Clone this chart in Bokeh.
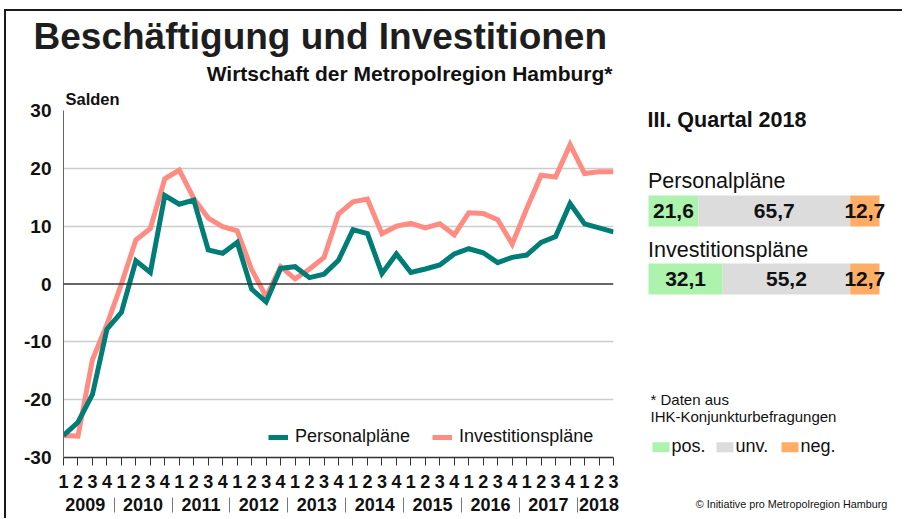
from bokeh.plotting import figure
from bokeh.models import (Range1d, LinearAxis, FixedTicker, Label, Legend, LegendItem,
                          Span, Grid, Title)
from bokeh.layouts import row
from bokeh.core.properties import value
from bokeh.embed import file_html
from bokeh.resources import INLINE

# ---------------- data ----------------
quarters = ["1", "2", "3", "4"] * 9 + ["1", "2", "3"]
years = ["2009", "2010", "2011", "2012", "2013", "2014", "2015", "2016", "2017", "2018"]
personal = [-26.2, -23.9, -19.1, -7.8, -4.9, 4.0, 2.0, 15.3, 13.8, 14.5,
            5.9, 5.3, 7.2, -0.9, -3.1, 2.7, 3.0, 1.1, 1.7, 4.1,
            9.4, 8.7, 1.8, 5.2, 2.0, 2.6, 3.3, 5.2, 6.1, 5.4,
            3.7, 4.6, 5.0, 7.2, 8.2, 13.9, 10.4, 9.7, 9.0]
invest = [-26.2, -26.3, -13.1, -7.0, 0.0, 7.6, 9.6, 18.2, 19.7, 14.8,
          11.4, 9.9, 9.2, 2.5, -2.2, 3.0, 0.9, 2.6, 4.6, 12.1,
          14.2, 14.7, 8.7, 10.0, 10.5, 9.7, 10.4, 8.5, 12.3, 12.2,
          11.1, 6.9, 13.0, 18.8, 18.5, 24.1, 19.1, 19.4, 19.4]
y_ticks = [-30, -20, -10, 0, 10, 20, 30]
series_names = ["Personalpläne", "Investitionspläne"]
share_pos = [21.6, 32.1]
share_unv = [65.7, 55.2]
share_neg = [12.7, 12.7]
share_keys = ["pos.", "unv.", "neg."]

title_text = "Beschäftigung und Investitionen"
subtitle_text = "Wirtschaft der Metropolregion Hamburg*"
ylabel_text = "Salden"
panel_title = "III. Quartal 2018"
note_lines = ["* Daten aus", "IHK-Konjunkturbefragungen"]
credit_text = "© Initiative pro Metropolregion Hamburg"

# ---------------- style ----------------
FONT = "Liberation Sans"
TEAL = "#007D76"
PINK = "#FF8C82"
C_POS = "#ADF2AD"
C_UNV = "#DCDCDC"
C_NEG = "#FFAD66"
TXT = "#111111"
H = 518

xs = list(range(len(personal)))

# ---------------- main chart ----------------
p1 = figure(width=628, height=H, x_range=Range1d(0, len(xs) - 1), y_range=Range1d(-30, 30),
            x_axis_type=None, y_axis_type=None, output_backend="svg", toolbar_location=None,
            min_border_left=63, min_border_right=15, min_border_top=110, min_border_bottom=H - 457)
p1.outline_line_color = None
p1.background_fill_color = "white"
p1.border_fill_alpha = 0

grid = Grid(dimension=1, ticker=FixedTicker(ticks=[t for t in y_ticks if t not in (0, -30)]),
            grid_line_color="#CCCCCC", grid_line_width=1.5)
p1.add_layout(grid)
p1.add_layout(Span(location=0, dimension="width", line_color="#333333", line_width=1.5))

yax = LinearAxis(ticker=FixedTicker(ticks=y_ticks),
                 major_label_overrides={t: str(t) for t in y_ticks},
                 axis_line_color="#666666", axis_line_width=1,
                 major_tick_line_color=None, minor_tick_line_color=None,
                 major_label_standoff=6, major_label_text_font=FONT,
                 major_label_text_font_style="bold", major_label_text_font_size="19px",
                 major_label_text_color=TXT)
p1.add_layout(yax, "left")

ax_q = LinearAxis(ticker=FixedTicker(ticks=xs),
                  major_label_overrides={i: q for i, q in enumerate(quarters)},
                  axis_line_color="#333333", axis_line_width=1.5,
                  major_tick_line_color="#333333", major_tick_out=8, major_tick_in=0,
                  minor_tick_line_color=None, major_label_standoff=9,
                  major_label_text_font=FONT, major_label_text_font_style="bold",
                  major_label_text_font_size="18px", major_label_text_color=TXT)
p1.add_layout(ax_q, "below")

starts = [i for i, q in enumerate(quarters) if q == "1"]
ends = starts[1:] + [len(quarters)]
centers = [(s + e - 1) / 2 for s, e in zip(starts, ends)]
seps = [s - 0.5 for s in starts[1:]]
ax_y = LinearAxis(ticker=FixedTicker(ticks=centers, minor_ticks=seps),
                  major_label_overrides={c: y for c, y in zip(centers, years)},
                  axis_line_color=None, major_tick_line_color=None, major_tick_out=0, major_tick_in=0,
                  minor_tick_line_color="#777777", minor_tick_in=-22, minor_tick_out=7,
                  major_label_standoff=0, major_label_text_font=FONT,
                  major_label_text_font_style="bold", major_label_text_font_size="18px",
                  major_label_text_color=TXT)
p1.add_layout(ax_y, "below")

r_inv = p1.line(xs, invest, line_color=PINK, line_width=5, line_join="miter")
r_per = p1.line(xs, personal, line_color=TEAL, line_width=5, line_join="miter")

legend = Legend(items=[LegendItem(label=series_names[0], renderers=[r_per]),
                       LegendItem(label=series_names[1], renderers=[r_inv])],
                orientation="horizontal", location=(205, 10), padding=0, margin=0,
                spacing=22, label_standoff=7, glyph_width=20, glyph_height=20,
                label_text_font=FONT, label_text_font_size="18px", label_text_color=TXT,
                background_fill_alpha=0, border_line_color=None)
p1.add_layout(legend)

# titles above the frame (nearest to frame first)
p1.add_layout(Title(text=ylabel_text, align="left", offset=2, standoff=6, text_font=FONT,
                    text_font_style="bold", text_font_size="16.5px", text_color=TXT), "above")
p1.add_layout(Title(text=subtitle_text, align="right", offset=1, standoff=0, text_font=FONT,
                    text_font_style="bold", text_font_size="21px", text_color=TXT), "above")
p1.add_layout(Title(text=title_text, align="left", offset=-30, standoff=6, text_font=FONT,
                    text_font_style="bold", text_font_size="37px", text_color="#1E1E1E"), "above")

# ---------------- right panel ----------------
W2 = 274
PX = 2.31          # pixels per percent
X0 = 20            # bar origin from panel left (px)
# y data units of the panel = page pixels (its frame is aligned with the chart frame: 110..457)
p2 = figure(width=W2, height=H, x_range=Range1d(-X0 / PX, (W2 - X0) / PX), y_range=Range1d(457, 110),
            x_axis_type=None, y_axis_type=None, output_backend="svg", toolbar_location=None,
            min_border_left=0, min_border_right=0, min_border_top=110, min_border_bottom=H - 457)
p2.outline_line_color = None
p2.grid.visible = False
p2.border_fill_alpha = 0


def px(page_x):
    return (page_x - 648) / PX


row_y = [210.5, 278.5]
left_unv = share_pos
left_neg = [a + b for a, b in zip(share_pos, share_unv)]
right_neg = [a + b for a, b in zip(left_neg, share_neg)]
p2.hbar(y=row_y, left=[0, 0], right=share_pos, height=31, fill_color=C_POS, line_color=None)
p2.hbar(y=row_y, left=left_unv, right=left_neg, height=31, fill_color=C_UNV, line_color=None)
p2.hbar(y=row_y, left=left_neg, right=right_neg, height=31, fill_color=C_NEG, line_color=None)


def fmt(v):
    return f"{v:.1f}".replace(".", ",")


tx, ty, tt = [], [], []
for i in range(2):
    segs = [(0, share_pos[i]), (left_unv[i], left_neg[i]), (left_neg[i], right_neg[i])]
    vals = [share_pos[i], share_unv[i], share_neg[i]]
    for (a, b), v in zip(segs, vals):
        tx.append((a + b) / 2)
        ty.append(row_y[i])
        tt.append(fmt(v))
p2.text(x=tx, y=ty, text=tt, text_align="center", text_baseline="middle",
        text_font=value(FONT), text_font_style="bold", text_font_size="21px", text_color=TXT)


def lab(x, y, text, size, bold=False, align="left"):
    p2.add_layout(Label(x=x, y=y, text=text, text_font=FONT, text_font_size=f"{size}px",
                        text_font_style="bold" if bold else "normal", text_color=TXT,
                        text_baseline="middle", text_align=align))


lab(px(647), 119.5, panel_title, 21.5, bold=True)
lab(px(647.5), 180, series_names[0], 21.5)
lab(px(647.5), 249.2, series_names[1], 21.5)
lab(px(650), 399, note_lines[0], 15)
lab(px(650), 415.5, note_lines[1], 15)

key_x = [px(660.5), px(724.5), px(789.5)]
p2.rect(x=key_x, y=[446.7] * 3, width=17 / PX, height=10, fill_color=[C_POS, C_UNV, C_NEG], line_color=None)
for kx, k in zip(key_x, share_keys):
    lab(kx + 10.5 / PX, 445.5, k, 18)

# credit line, written as the single tick label of an otherwise invisible axis
credit_x = px(791)
credit_axis = LinearAxis(ticker=FixedTicker(ticks=[credit_x]),
                         major_label_overrides={credit_x: credit_text},
                         axis_line_color=None, major_tick_line_color=None, minor_tick_line_color=None,
                         major_tick_out=0, major_tick_in=0, major_label_standoff=40,
                         major_label_text_font=FONT, major_label_text_font_size="10.8px",
                         major_label_text_color=TXT)
p2.add_layout(credit_axis, "below")

frame_line = "#1A1A1A"
layout = row(p1, p2, styles={
    "background-color": "white",
    "background-image": f"linear-gradient({frame_line}, {frame_line}), linear-gradient({frame_line}, {frame_line})",
    "background-position": "4px 9px, 4px 9px",
    "background-size": "100% 2px, 2px 100%",
    "background-repeat": "no-repeat",
})

open("out.html", "w").write(file_html(layout, INLINE))
